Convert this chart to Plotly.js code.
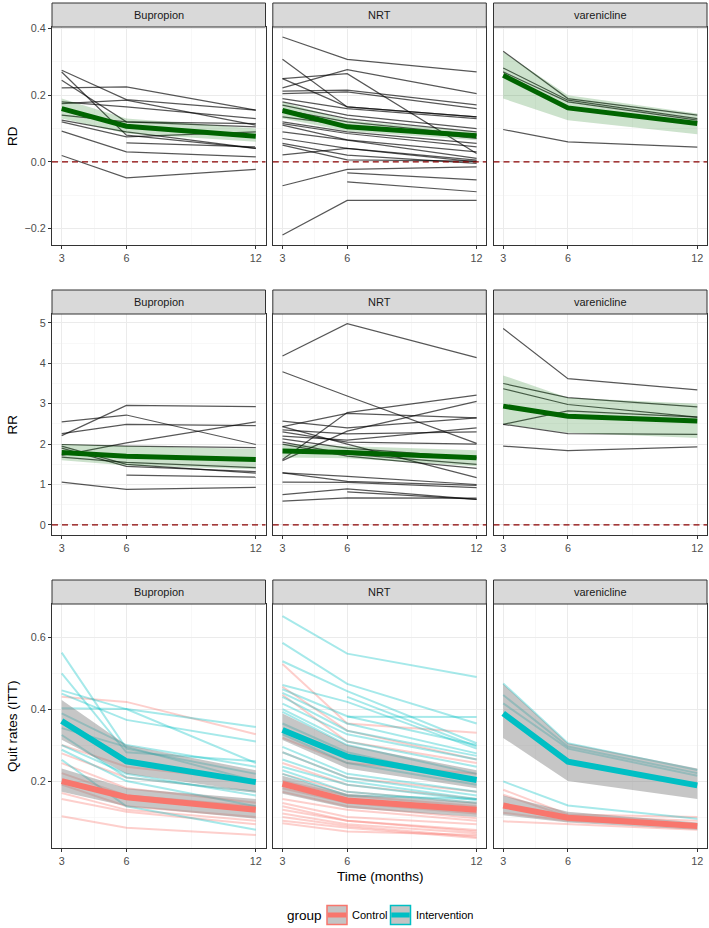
<!DOCTYPE html>
<html><head><meta charset="utf-8">
<script src="https://cdn.plot.ly/plotly-3.0.1.min.js"></script>
<style>html,body{margin:0;padding:0;background:#fff}#chart{width:709px;height:928px}</style>
</head><body><div id="chart"></div>
<script>
// ---------------- DATA ----------------
const months = [3, 6, 12];
const drugs = ["Bupropion", "NRT", "varenicline"];
const xTickText = ["3", "6", "12"];

// RD: study lines (values at 3, 6, 12 months)
const rdBupropion = [
  [0.222, 0.225, 0.155], [0.275, 0.187, 0.155], [0.270, 0.080, 0.040], [0.245, 0.120, 0.105],
  [0.180, 0.165, 0.130], [0.175, 0.185, 0.110], [0.140, 0.120, 0.115], [0.125, 0.090, 0.040],
  [0.120, 0.075, 0.090], [0.092, 0.030, 0.015], [0.019, -0.048, -0.023], [null, 0.057, 0.045]
];
const rdNRT = [
  [0.375, 0.308, 0.270], [0.308, 0.165, 0.135], [0.222, 0.277, 0.205], [0.250, 0.265, 0.025],
  [0.212, 0.215, 0.171], [0.205, 0.210, 0.160], [0.250, 0.165, 0.135], [0.190, 0.160, 0.130],
  [0.180, 0.140, 0.100], [0.170, 0.130, 0.090], [0.156, 0.120, 0.080], [0.135, 0.110, 0.070],
  [0.120, 0.090, 0.055], [0.115, 0.085, 0.045], [0.110, 0.066, 0.030], [0.090, 0.065, 0.010],
  [0.070, 0.040, 0.005], [0.055, 0.020, -0.005], [0.050, 0.006, 0.002], [0.021, 0.040, 0.000],
  [-0.072, -0.023, -0.015], [-0.220, -0.116, -0.116], [null, -0.033, -0.054], [null, -0.060, -0.090]
];
const rdVarenicline = [
  [0.332, 0.190, 0.140], [0.282, 0.185, 0.130], [0.270, 0.180, 0.125], [0.097, 0.060, 0.044]
];
const rdMean = { Bupropion: [0.160, 0.107, 0.077], NRT: [0.154, 0.105, 0.078], varenicline: [0.260, 0.162, 0.115] };
const rdLow  = { Bupropion: [0.130, 0.085, 0.060], NRT: [0.130, 0.092, 0.065], varenicline: [0.190, 0.125, 0.083] };
const rdHigh = { Bupropion: [0.190, 0.130, 0.100], NRT: [0.180, 0.125, 0.090], varenicline: [0.330, 0.200, 0.145] };

// RR: study lines
const rrBupropion = [
  [2.55, 2.72, 1.99], [2.21, 2.96, 2.93], [2.26, 2.49, 2.46], [1.72, 2.03, 2.55], [1.99, 1.95, 1.91],
  [1.95, 1.50, 1.28], [1.90, 1.45, 1.32], [1.68, 1.55, 1.42], [null, 1.23, 1.18], [1.06, 0.88, 0.93]
];
const rrNRT = [
  [4.18, 4.98, 4.14], [3.79, 3.19, 2.02], [1.62, 2.78, 3.21], [1.59, 2.32, 3.06], [2.57, 2.40, 2.65],
  [2.43, 2.76, 2.65], [2.43, 2.00, 1.17], [2.35, 2.25, 2.30], [2.30, 2.05, 2.00], [2.20, 2.10, 2.40],
  [2.13, 1.90, 1.66], [2.05, 1.75, 1.50], [2.00, 1.70, 1.40], [1.29, 1.08, 0.98], [1.29, 1.20, 1.00],
  [1.06, 1.05, 0.92], [0.75, 0.89, 0.63], [0.59, 0.67, 0.66], [null, 0.82, 0.63]
];
const rrVarenicline = [
  [4.86, 3.62, 3.34], [3.50, 3.15, 2.92], [3.37, 2.98, 2.67], [2.49, 2.82, 2.67], [2.49, 2.26, 2.24], [1.95, 1.84, 1.93]
];
const rrMean = { Bupropion: [1.79, 1.70, 1.62], NRT: [1.83, 1.79, 1.66], varenicline: [2.94, 2.69, 2.57] };
const rrLow  = { Bupropion: [1.60, 1.47, 1.38], NRT: [1.67, 1.65, 1.45], varenicline: [2.50, 2.28, 2.15] };
const rrHigh = { Bupropion: [2.00, 1.95, 1.88], NRT: [2.00, 1.95, 1.85], varenicline: [3.70, 3.15, 3.00] };

// Quit rates (ITT): study lines per group
const qrBupropionInt = [
  [0.557, 0.290, 0.220], [0.499, 0.280, 0.255], [0.452, 0.400, 0.350], [0.443, 0.370, 0.310],
  [0.402, 0.400, 0.250], [0.388, 0.300, 0.240], [0.347, 0.295, 0.200], [0.328, 0.210, 0.170],
  [0.300, 0.220, 0.160], [0.287, 0.200, 0.130], [0.259, 0.130, 0.065]
];
const qrBupropionCtl = [
  [0.434, 0.420, 0.330], [0.300, 0.240, 0.200], [0.277, 0.210, 0.170], [0.250, 0.180, 0.140],
  [0.222, 0.160, 0.130], [0.190, 0.130, 0.100], [0.167, 0.120, 0.090], [0.150, 0.115, 0.080], [0.102, 0.070, 0.050]
];
const qrNRTInt = [
  [0.658, 0.554, 0.489], [0.584, 0.470, 0.360], [0.533, 0.450, 0.305], [null, 0.379, 0.378], [null, 0.434, 0.296],
  [0.467, 0.420, 0.290], [0.455, 0.380, 0.300], [0.445, 0.360, 0.277], [0.434, 0.340, 0.270], [0.415, 0.330, 0.260],
  [0.400, 0.310, 0.240], [0.392, 0.300, 0.220], [0.360, 0.280, 0.200], [0.330, 0.250, 0.190], [0.295, 0.220, 0.170],
  [0.280, 0.210, 0.160], [0.260, 0.200, 0.150], [0.240, 0.190, 0.147], [0.230, 0.170, 0.140], [0.220, 0.160, 0.150]
];
const qrNRTCtl = [
  [0.525, 0.360, 0.334], [0.462, 0.340, 0.260], [0.440, 0.310, 0.250], [0.320, 0.250, 0.220], [0.280, 0.210, 0.170],
  [0.250, 0.190, 0.150], [0.220, 0.170, 0.140], [0.200, 0.160, 0.130], [0.190, 0.150, 0.120], [0.180, 0.140, 0.110],
  [0.170, 0.130, 0.097], [0.150, 0.120, 0.090], [0.139, 0.100, 0.080], [0.130, 0.090, 0.064], [0.120, 0.090, 0.060],
  [0.110, 0.080, 0.055], [0.100, 0.075, 0.045], [0.090, 0.070, 0.042], [0.083, 0.060, 0.050]
];
const qrVareniclineInt = [
  [0.471, 0.305, 0.231], [0.439, 0.296, 0.222], [0.416, 0.290, 0.215], [0.199, 0.132, 0.095]
];
const qrVareniclineCtl = [
  [0.176, 0.107, 0.100], [0.162, 0.102, 0.090], [0.112, 0.090, 0.078], [0.088, 0.080, 0.065]
];
const qrIntMean = { Bupropion: [0.367, 0.255, 0.197], NRT: [0.342, 0.268, 0.203], varenicline: [0.388, 0.254, 0.188] };
const qrIntLow  = { Bupropion: [0.315, 0.220, 0.170], NRT: [0.314, 0.235, 0.180], varenicline: [0.320, 0.200, 0.150] };
const qrIntHigh = { Bupropion: [0.425, 0.300, 0.230], NRT: [0.388, 0.300, 0.230], varenicline: [0.470, 0.305, 0.235] };
const qrCtlMean = { Bupropion: [0.200, 0.155, 0.120], NRT: [0.192, 0.146, 0.120], varenicline: [0.132, 0.098, 0.075] };
const qrCtlLow  = { Bupropion: [0.170, 0.130, 0.095], NRT: [0.165, 0.125, 0.100], varenicline: [0.105, 0.085, 0.065] };
const qrCtlHigh = { Bupropion: [0.235, 0.180, 0.150], NRT: [0.215, 0.165, 0.140], varenicline: [0.160, 0.115, 0.085] };

const groups = ["Control", "Intervention"];

// ---------------- LAYOUT GEOMETRY ----------------
const W = 709, H = 928;
const colX = [52, 272.8, 493.5], colW = 213.5;
const rowsPx = [{ top: 27, bot: 245 }, { top: 314, bot: 535 }, { top: 604, bot: 848 }];
const stripH = 24;
const px = v => v / W, py = v => 1 - v / H;

const COL_CTL = "#F8766D", COL_INT = "#00BFC4";
const rowSpec = [
  { title: "RD", range: [-0.25, 0.405], tickvals: [-0.2, 0, 0.2, 0.4], fmt: ".1f", minor: [-0.1, 0.1, 0.3] },
  { title: "RR", range: [-0.25, 5.22], tickvals: [0, 1, 2, 3, 4, 5], fmt: "d", minor: [0.5, 1.5, 2.5, 3.5, 4.5] },
  { title: "Quit rates (ITT)", range: [0.014, 0.692], tickvals: [0.2, 0.4, 0.6], fmt: ".1f", minor: [0.1, 0.3, 0.5] }
];

const layout = {
  width: W, height: H, margin: { l: 0, r: 0, t: 0, b: 0 },
  paper_bgcolor: "#fff", plot_bgcolor: "#fff", showlegend: false, hovermode: false,
  font: { family: "Liberation Sans, Arial, sans-serif", color: "#4D4D4D" },
  shapes: [], annotations: []
};
const traces = [];
const rdStudies = { Bupropion: rdBupropion, NRT: rdNRT, varenicline: rdVarenicline };
const rrStudies = { Bupropion: rrBupropion, NRT: rrNRT, varenicline: rrVarenicline };
const qrInt = { Bupropion: qrBupropionInt, NRT: qrNRTInt, varenicline: qrVareniclineInt };
const qrCtl = { Bupropion: qrBupropionCtl, NRT: qrNRTCtl, varenicline: qrVareniclineCtl };

const bandX = months.concat(months.slice().reverse());
function band(lo, hi, color, xa, ya) {
  return { x: bandX, y: hi.concat(lo.slice().reverse()), mode: "lines", fill: "toself", fillcolor: color,
    line: { width: 0 }, xaxis: xa, yaxis: ya, hoverinfo: "skip" };
}
function line(y, color, width, xa, ya) {
  return { x: months, y: y, mode: "lines", line: { color: color, width: width }, connectgaps: false, xaxis: xa, yaxis: ya };
}

for (let r = 0; r < 3; r++) {
  const spec = rowSpec[r];
  for (let c = 0; c < 3; c++) {
    const idx = r * 3 + c + 1;
    const xa = "x" + (idx === 1 ? "" : idx), ya = "y" + (idx === 1 ? "" : idx);
    const xName = "xaxis" + (idx === 1 ? "" : idx), yName = "yaxis" + (idx === 1 ? "" : idx);
    const top = rowsPx[r].top, bot = rowsPx[r].bot;
    layout[xName] = {
      domain: [px(colX[c]), px(colX[c] + colW)], anchor: ya, range: [2.55, 12.45],
      tickmode: "array", tickvals: months, ticktext: xTickText,
      ticks: "outside", ticklen: 3, tickcolor: "#333333", tickwidth: 1,
      tickfont: { size: 10.8, color: "#4D4D4D" },
      showgrid: true, gridcolor: "#EBEBEB", gridwidth: 1, zeroline: false,
      minor: { tickmode: "array", tickvals: [4.5, 9], showgrid: true, gridcolor: "#F4F4F4", gridwidth: 0.6, ticklen: 0 },
      showline: true, mirror: true, linecolor: "#333333", linewidth: 1
    };
    layout[yName] = {
      domain: [py(bot), py(top)], anchor: xa, range: spec.range,
      tickmode: "array", tickvals: spec.tickvals, tickformat: spec.fmt,
      ticks: c === 0 ? "outside" : "", ticklen: 3, tickcolor: "#333333", tickwidth: 1,
      showticklabels: c === 0, tickfont: { size: 10.8, color: "#4D4D4D" },
      showgrid: true, gridcolor: "#EBEBEB", gridwidth: 1, zeroline: false,
      minor: { tickmode: "array", tickvals: spec.minor, showgrid: true, gridcolor: "#F4F4F4", gridwidth: 0.6, ticklen: 0 },
      showline: true, mirror: true, linecolor: "#333333", linewidth: 1
    };
    // strip
    layout.shapes.push({ type: "rect", xref: "paper", yref: "paper", x0: px(colX[c]), x1: px(colX[c] + colW),
      y0: py(top), y1: py(top - stripH), fillcolor: "#D9D9D9", line: { color: "#333333", width: 1 }, layer: "above" });
    layout.annotations.push({ xref: "paper", yref: "paper", x: px(colX[c] + colW / 2), y: py(top - stripH / 2),
      text: drugs[c], showarrow: false, xanchor: "center", yanchor: "middle", font: { size: 11, color: "#1A1A1A" } });

    const d = drugs[c];
    if (r < 2) {
      const studies = r === 0 ? rdStudies[d] : rrStudies[d];
      studies.forEach(s => traces.push(line(s, "rgba(0,0,0,0.66)", 1.25, xa, ya)));
      const lo = r === 0 ? rdLow[d] : rrLow[d], hi = r === 0 ? rdHigh[d] : rrHigh[d], mn = r === 0 ? rdMean[d] : rrMean[d];
      traces.push(band(lo, hi, "rgba(0,110,0,0.2)", xa, ya));
      traces.push(line(mn, "#006400", 5, xa, ya));
      layout.shapes.push({ type: "line", xref: xa + " domain", yref: ya, x0: 0, x1: 1, y0: 0, y1: 0,
        line: { color: "#8B0000", width: 1.2, dash: "6px,4px" }, layer: "above" });
    } else {
      qrCtl[d].forEach(s => traces.push(line(s, "rgba(248,118,109,0.35)", 2, xa, ya)));
      qrInt[d].forEach(s => traces.push(line(s, "rgba(0,191,196,0.35)", 2, xa, ya)));
      traces.push(band(qrCtlLow[d], qrCtlHigh[d], "rgba(128,128,128,0.45)", xa, ya));
      traces.push(band(qrIntLow[d], qrIntHigh[d], "rgba(128,128,128,0.45)", xa, ya));
      traces.push(line(qrCtlMean[d], COL_CTL, 6, xa, ya));
      traces.push(line(qrIntMean[d], COL_INT, 6, xa, ya));
    }
  }
  // y-axis title
  const midY = (rowsPx[r].top + rowsPx[r].bot) / 2;
  layout.annotations.push({ xref: "paper", yref: "paper", x: px(12), y: py(midY), text: spec.title, textangle: -90,
    showarrow: false, xanchor: "center", yanchor: "middle", font: { size: 13.5, color: "#000" } });
}

// x-axis title
layout.annotations.push({ xref: "paper", yref: "paper", x: px(380), y: py(876), text: "Time (months)",
  showarrow: false, xanchor: "center", yanchor: "middle", font: { size: 13.5, color: "#000" } });

// legend
layout.annotations.push({ xref: "paper", yref: "paper", x: px(285), y: py(915), text: "group",
  showarrow: false, xanchor: "left", yanchor: "middle", font: { size: 13.5, color: "#000" } });
const keyX = [327, 390.5], keyColors = [COL_CTL, COL_INT];
groups.forEach((g, i) => {
  layout.shapes.push({ type: "rect", xref: "paper", yref: "paper", x0: px(keyX[i]), x1: px(keyX[i] + 20),
    y0: py(924.5), y1: py(905.5), fillcolor: "#C4C4C4", line: { color: keyColors[i], width: 1.5 }, layer: "above" });
  layout.shapes.push({ type: "line", xref: "paper", yref: "paper", x0: px(keyX[i] + 0.8), x1: px(keyX[i] + 19.2),
    y0: py(915), y1: py(915), line: { color: keyColors[i], width: 5 }, layer: "above" });
  layout.annotations.push({ xref: "paper", yref: "paper", x: px(keyX[i] + 23), y: py(915), text: g,
    showarrow: false, xanchor: "left", yanchor: "middle", font: { size: 11, color: "#000" } });
});

Plotly.newPlot("chart", traces, layout, { staticPlot: true, displayModeBar: false });
</script>
</body></html>
